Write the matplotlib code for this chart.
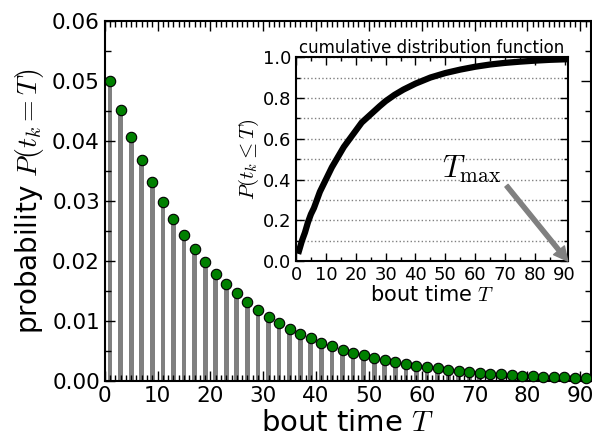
import numpy as np
import matplotlib.pyplot as plt
from matplotlib.ticker import MultipleLocator

plt.rcParams['mathtext.fontset'] = 'cm'
plt.rcParams['xtick.direction'] = 'in'
plt.rcParams['ytick.direction'] = 'in'
plt.rcParams['xtick.top'] = True
plt.rcParams['ytick.right'] = True

# probability of bout time (every second value shown)
T = [1, 3, 5, 7, 9, 11, 13, 15, 17, 19, 21, 23, 25, 27, 29, 31, 33, 35, 37, 39,
     41, 43, 45, 47, 49, 51, 53, 55, 57, 59, 61, 63, 65, 67, 69, 71, 73, 75, 77,
     79, 81, 83, 85, 87, 89, 91]
prob = [0.0500, 0.0451, 0.0407, 0.0368, 0.0332, 0.0299, 0.0270, 0.0244, 0.0220,
        0.0199, 0.0179, 0.0162, 0.0146, 0.0132, 0.0119, 0.0107, 0.0097, 0.0087,
        0.0079, 0.0071, 0.0064, 0.0058, 0.0052, 0.0047, 0.0043, 0.0039, 0.0035,
        0.0031, 0.0028, 0.0025, 0.0023, 0.0021, 0.0019, 0.0017, 0.0015, 0.0014,
        0.0012, 0.0011, 0.0010, 0.0009, 0.0008, 0.0007, 0.0007, 0.0006, 0.0005,
        0.0005]

# cumulative distribution (inset)
T_cdf = [1, 2, 3, 4, 5, 6, 7, 8, 10, 12, 14, 16, 18, 20, 22, 25, 28, 30, 33,
         36, 40, 45, 50, 55, 60, 65, 70, 75, 80, 85, 91]
cdf = [0.05, 0.10, 0.14, 0.19, 0.23, 0.26, 0.30, 0.34, 0.40, 0.46, 0.51, 0.56,
       0.60, 0.64, 0.68, 0.72, 0.76, 0.785, 0.816, 0.842, 0.871, 0.901, 0.923,
       0.940, 0.954, 0.965, 0.973, 0.979, 0.984, 0.988, 0.991]

fig = plt.figure(figsize=(5.92, 4.38), dpi=100)
ax = fig.add_axes([0.177, 0.130, 0.821, 0.822])
ax.bar(T, prob, width=0.9, color='gray', edgecolor='none', zorder=1)
ax.plot(T, prob, 'o', color='green', mec='black', mew=0.8, ms=7.5, zorder=3, clip_on=False)
ax.set_xlim(0, 92)
ax.set_ylim(0, 0.06)
ax.xaxis.set_major_locator(MultipleLocator(10))
ax.xaxis.set_minor_locator(MultipleLocator(1))
ax.yaxis.set_major_locator(MultipleLocator(0.01))
ax.yaxis.set_minor_locator(MultipleLocator(0.005))
ax.tick_params(which='major', length=7, width=1, labelsize=15.5)
ax.tick_params(which='minor', length=4, width=1)
ax.set_xlabel('bout time $T$', fontsize=21, labelpad=2)
ax.set_ylabel('probability $P(t_k=T)$', fontsize=20)
for s in ax.spines.values():
    s.set_linewidth(1.5)

ins = fig.add_axes([0.5, 0.404, 0.459, 0.465])
ins.plot(T_cdf, cdf, color='black', lw=4.5)
ins.set_xlim(0, 91)
ins.set_ylim(0, 1)
ins.xaxis.set_major_locator(MultipleLocator(10))
ins.xaxis.set_minor_locator(MultipleLocator(5))
ins.yaxis.set_major_locator(MultipleLocator(0.2))
ins.yaxis.set_minor_locator(MultipleLocator(0.1))
ins.yaxis.grid(True, which='both', color='gray', linestyle=':', lw=1)
ins.tick_params(which='major', length=6, width=1, labelsize=13)
ins.tick_params(which='minor', length=3, width=1)
ins.set_xlabel('bout time $T$', fontsize=15, labelpad=1)
ins.set_ylabel(r'$P(t_k \leq T)$', fontsize=15, labelpad=1)
ins.set_title('cumulative distribution function', fontsize=12, pad=2)
for s in ins.spines.values():
    s.set_linewidth(1.5)
ins.text(49, 0.41, r'$T_{\max}$', fontsize=22, va='baseline')
ins.annotate('', xy=(91, 0), xytext=(70.5, 0.37),
             arrowprops=dict(facecolor='gray', edgecolor='gray', width=3,
                             headwidth=10, headlength=10, shrink=0.0))

fig.savefig('out.png', dpi=100)
